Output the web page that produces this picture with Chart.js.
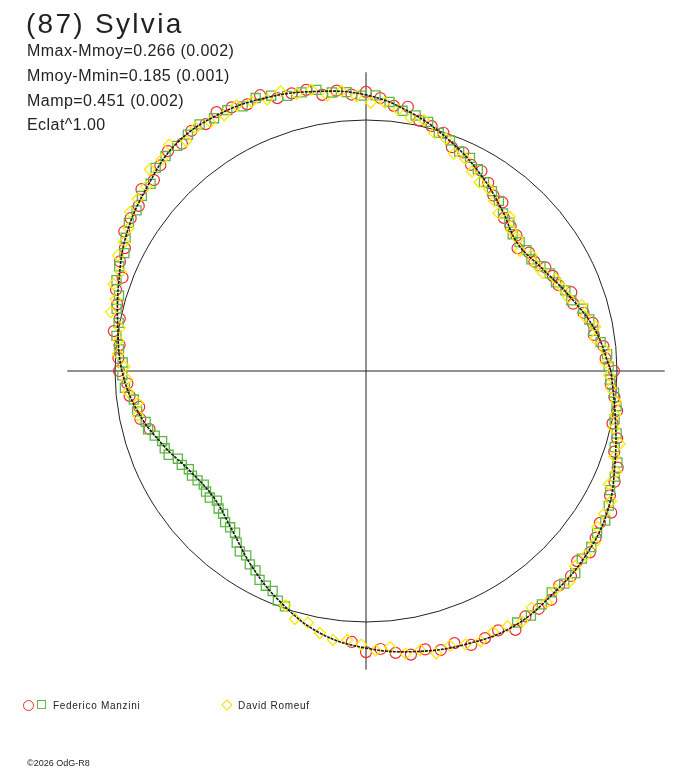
<!DOCTYPE html>
<html>
<head>
<meta charset="utf-8">
<title>(87) Sylvia</title>
<script src="https://cdn.jsdelivr.net/npm/chart.js@4.4.1/dist/chart.umd.min.js"></script>
<style>
  body { margin: 0; background: #fff; }
  #wrap { position: relative; width: 688px; height: 768px; font-family: "Liberation Sans", Arial, sans-serif; color: #222; }
  #chart { position: absolute; left: 0; top: 0; }
  .txt { position: absolute; white-space: nowrap; line-height: 1; }
  .title { left: 26px; top: 9.6px; font-size: 28px; letter-spacing: 2.3px; }
  .info { left: 27px; font-size: 16px; letter-spacing: 0.45px; }
  .leg { font-size: 10px; letter-spacing: 0.7px; top: 700.5px; }
  .copy { left: 27px; top: 758.5px; font-size: 9px; }
  .mk { position: absolute; box-sizing: border-box; }
</style>
</head>
<body>
<div id="wrap">
  <canvas id="chart" width="688" height="768"></canvas>
  <div class="txt title">(87) Sylvia</div>
  <div class="txt info" style="top:43px">Mmax-Mmoy=0.266 (0.002)</div>
  <div class="txt info" style="top:68px">Mmoy-Mmin=0.185 (0.001)</div>
  <div class="txt info" style="top:93px">Mamp=0.451 (0.002)</div>
  <div class="txt info" style="top:117px">Eclat^1.00</div>

  <div class="mk" style="left:23px;top:699.5px;width:11px;height:11px;border:1px solid #ee2a32;border-radius:50%"></div>
  <div class="mk" style="left:37px;top:700px;width:9px;height:9px;border:1px solid #62b848"></div>
  <div class="txt leg" style="left:53px">Federico Manzini</div>
  <div class="mk" style="left:222.5px;top:701px;width:8px;height:8px;border:1px solid #f2e000;transform:rotate(45deg)"></div>
  <div class="txt leg" style="left:238px">David Romeuf</div>

  <div class="txt copy">&copy;2026 OdG-R8</div>
</div>
<script>
// rotational phase in degrees, relative flux (reference circle = 1)
const fitPhase = [0,10,20,30,40,50,60,70,80,90,100,110,120,130,140,150,160,170,
                  180,190,200,210,220,230,240,250,260,270,280,290,300,310,320,330,340,350];
const fitFlux = [0.976,0.928,0.865,0.813,0.789,0.841,0.908,0.976,1.044,1.100,1.131,1.159,1.179,1.179,1.139,1.100,1.048,1.004,
                 0.972,0.924,0.861,0.805,0.789,0.829,0.904,0.984,1.060,1.104,1.135,1.159,1.175,1.159,1.143,1.112,1.056,1.008];

// Federico Manzini, session 1 (circles)
const manziniAPhase = [0,3,6,9,12,15,18,21,24,27,30,33,36,39,42,45,48,51,54,57,60,63,66,69,72,75,78,81,84,87,
  90,93,96,99,102,105,108,111,114,117,120,123,126,129,132,135,138,141,144,147,150,153,156,159,162,165,168,171,174,177,
  180,183,186,189,192,195,
  267,270,273,276,279,282,285,288,291,294,297,300,303,306,309,312,315,318,321,324,327,330,333,336,339,342,345,348,351,354,357];
const manziniAFlux = [0.988,0.956,0.951,0.919,0.923,0.897,0.868,0.876,0.840,0.835,0.825,0.800,0.803,0.777,0.807,0.815,0.821,0.864,0.864,0.894,
  0.920,0.922,0.953,0.955,0.998,1.010,1.020,1.066,1.062,1.089,1.112,1.103,1.123,1.114,1.145,1.145,1.143,1.177,1.163,1.179,
  1.191,1.173,1.183,1.165,1.179,1.159,1.137,1.151,1.119,1.118,1.112,1.078,1.073,1.039,1.047,1.026,1.003,1.017,0.987,0.988,
  0.984,0.952,0.947,0.915,0.919,0.893,
  1.081,1.120,1.109,1.129,1.144,1.134,1.151,1.140,1.169,1.165,1.160,1.191,1.166,1.171,1.173,1.150,1.155,1.132,1.148,1.131,
  1.111,1.128,1.091,1.084,1.074,1.040,1.036,1.004,1.013,0.995,0.976];

// Federico Manzini, session 2 (squares)
const manziniBPhase = [1,4,7,10,13,16,19,22,25,28,31,34,37,40,43,46,49,52,55,58,61,64,67,70,73,76,79,82,85,88,
  91,94,97,100,103,106,109,112,115,118,121,124,127,130,133,136,139,142,145,148,151,154,157,160,163,166,169,172,175,178,
  181,184,187,190,193,195,197,199,201,203,205,207,209,211,213,215,217,219,221,223,225,227,229,231,233,235,237,239,
  241,243,245,247,249,251,
  301,304,307,310,313,316,319,322,325,328,331,334,337,340,343,346,349,352,355,358];
const manziniBFlux = [0.967,0.963,0.942,0.920,0.913,0.900,0.865,0.857,0.835,0.829,0.811,0.795,0.800,0.799,0.799,0.822,0.832,0.860,0.875,0.887,
  0.919,0.945,0.950,0.978,0.992,1.023,1.037,1.047,1.076,1.099,1.097,1.114,1.118,1.137,1.139,1.140,1.160,1.173,1.163,1.177,
  1.175,1.185,1.179,1.171,1.171,1.165,1.137,1.133,1.116,1.114,1.095,1.071,1.068,1.058,1.029,1.024,1.004,1.004,0.988,0.970,
  0.971,0.963,0.932,0.926,0.901,0.899,0.880,0.859,0.859,0.854,0.827,0.824,0.807,0.809,0.800,0.789,0.798,0.801,
  0.787,0.803,0.805,0.823,0.825,0.829,0.856,0.877,0.876,0.899,0.908,0.934,0.944,0.952,0.980,0.992,
  1.169,1.175,1.164,1.151,1.158,1.159,1.139,1.139,1.124,1.124,1.106,1.082,1.077,1.066,1.036,1.029,1.009,1.008,0.992,0.974];

// David Romeuf (diamonds)
const romeufPhase = [2,5,8,11,14,17,20,23,26,29,32,35,38,41,44,47,50,53,56,59,62,65,68,71,74,77,80,83,86,89,
  92,95,98,101,104,107,110,113,116,119,122,125,128,131,134,137,140,143,146,149,152,155,158,161,164,167,170,173,176,179,
  182,185,188,191,
  251,254,257,260,263,266,269,272,275,278,281,284,287,290,293,296,299,302,305,308,311,314,317,320,323,326,329,332,335,338,
  341,344,347,350,353,356,359];
const romeufFlux = [0.956,0.956,0.922,0.930,0.899,0.898,0.857,0.849,0.840,0.806,0.798,0.805,0.778,0.802,0.806,0.839,0.821,0.849,0.875,0.877,
  0.900,0.934,0.934,0.979,0.987,1.026,1.024,1.049,1.072,1.070,1.096,1.120,1.109,1.142,1.138,1.165,1.151,1.165,1.177,1.165,
  1.169,1.183,1.163,1.195,1.171,1.177,1.143,1.139,1.134,1.104,1.092,1.090,1.054,1.064,1.038,1.043,0.996,0.994,0.991,0.963,
  0.952,0.952,0.918,0.926,
  0.988,1.028,1.029,1.060,1.079,1.074,1.090,1.114,1.104,1.137,1.133,1.159,1.144,1.159,1.170,1.157,1.163,1.176,1.151,1.170,
  1.153,1.167,1.140,1.143,1.140,1.112,1.105,1.105,1.068,1.075,1.047,1.051,1.014,1.008,1.004,0.977,0.969];

const axisExtent = 1.19;

// polar -> cartesian for the scatter scales
function toXY(phase, flux) {
  return phase.map(function (p, i) {
    const a = p * Math.PI / 180;
    return { x: flux[i] * Math.cos(a), y: flux[i] * Math.sin(a) };
  });
}

const fitPts = toXY(fitPhase, fitFlux);
fitPts.push(fitPts[0]);

// reference circle and cross, drawn through the chart scales
const frame = {
  id: 'frame',
  beforeDatasetsDraw(chart) {
    const ctx = chart.ctx, sx = chart.scales.x, sy = chart.scales.y;
    const cx = sx.getPixelForValue(0), cy = sy.getPixelForValue(0);
    const rad = sx.getPixelForValue(1) - cx;
    ctx.save();
    ctx.strokeStyle = '#222';
    ctx.lineWidth = 1;
    ctx.beginPath();
    ctx.moveTo(sx.getPixelForValue(-axisExtent), cy);
    ctx.lineTo(sx.getPixelForValue(axisExtent), cy);
    ctx.moveTo(cx, sy.getPixelForValue(axisExtent));
    ctx.lineTo(cx, sy.getPixelForValue(-axisExtent));
    ctx.stroke();
    ctx.beginPath();
    ctx.arc(cx, cy, rad, 0, Math.PI * 2);
    ctx.stroke();
    ctx.restore();
  }
};

new Chart(document.getElementById('chart'), {
  type: 'scatter',
  data: {
    datasets: [
      { label: 'fit', data: fitPts, showLine: true, tension: 0.4, borderColor: '#1a1a1a', borderWidth: 1.6,
        borderDash: [3, 1], pointRadius: 0, fill: false },
      { label: 'David Romeuf', data: toXY(romeufPhase, romeufFlux), pointStyle: 'rectRot', pointRadius: 5.5,
        borderColor: '#ffe800', backgroundColor: 'rgba(0,0,0,0)', borderWidth: 1.3 },
      { label: 'Federico Manzini 2', data: toXY(manziniBPhase, manziniBFlux), pointStyle: 'rect', pointRadius: 6.4,
        borderColor: '#5cb844', backgroundColor: 'rgba(0,0,0,0)', borderWidth: 1.3 },
      { label: 'Federico Manzini', data: toXY(manziniAPhase, manziniAFlux), pointStyle: 'circle', pointRadius: 5.5,
        borderColor: '#f02830', backgroundColor: 'rgba(0,0,0,0)', borderWidth: 1.2 }
    ]
  },
  options: {
    responsive: false,
    animation: false,
    devicePixelRatio: 1,
    layout: { padding: 0, autoPadding: false },
    plugins: { legend: { display: false }, tooltip: { enabled: false }, title: { display: false } },
    scales: {
      x: { type: 'linear', display: false, min: -366 / 251, max: 322 / 251 },
      y: { type: 'linear', display: false, min: -397 / 251, max: 371 / 251 }
    }
  },
  plugins: [frame]
});
</script>
</body>
</html>
